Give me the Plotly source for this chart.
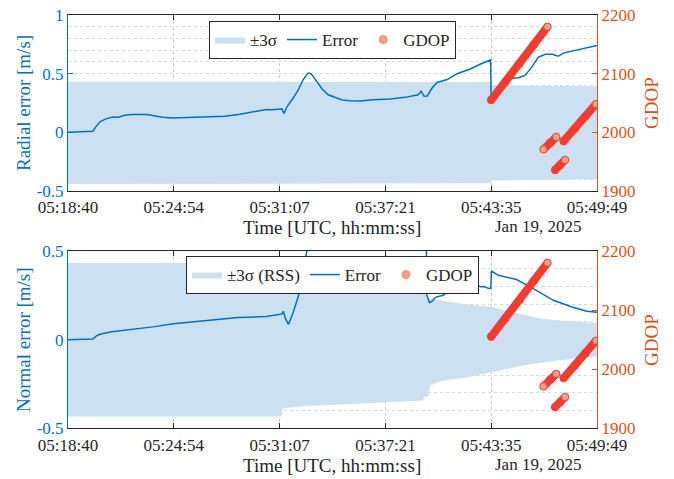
import pandas as pd
import plotly.graph_objects as go

# ---------------- data (seconds after 05:18:40 UTC, 19 Jan 2025) ----------------
START = "2025-01-19 05:18:40"
SPAN_S = 1869
tick_labels = ["05:18:40", "05:24:54", "05:31:07", "05:37:21", "05:43:35", "05:49:49"]

# Radial error
rad_t = [0, 42, 78, 88, 99, 113, 134, 159, 177, 201, 226, 255, 279, 308, 336, 371, 431, 502, 555,
         608, 661, 700, 721, 756, 763, 774, 795, 813, 831, 848, 859, 877, 898, 919, 944, 969, 997,
         1032, 1078, 1138, 1191, 1237, 1248, 1258, 1269, 1287, 1304, 1340, 1375, 1421, 1456, 1493,
         1495, 1509, 1527, 1545, 1569, 1591, 1615, 1640, 1661, 1686, 1711, 1732, 1750, 1775, 1810,
         1845, 1869]
rad_err = [0.0, 0.005, 0.01, 0.01, 0.05, 0.09, 0.115, 0.13, 0.128, 0.145, 0.152, 0.15, 0.152, 0.14,
           0.128, 0.123, 0.127, 0.135, 0.137, 0.155, 0.175, 0.195, 0.192, 0.2, 0.16, 0.22, 0.29,
           0.36, 0.45, 0.505, 0.5, 0.44, 0.37, 0.32, 0.295, 0.275, 0.27, 0.268, 0.278, 0.285, 0.298,
           0.32, 0.35, 0.307, 0.31, 0.38, 0.425, 0.45, 0.5, 0.54, 0.58, 0.617, 0.3, 0.36, 0.4, 0.44,
           0.46, 0.465, 0.485, 0.56, 0.64, 0.665, 0.665, 0.648, 0.675, 0.688, 0.705, 0.722, 0.74]

rad_sig_t = [0, 756, 756, 1495, 1495, 1869]
rad_sig_up = [0.432, 0.432, 0.428, 0.428, 0.400, 0.392]
rad_sig_lo = [-0.44, -0.44, -0.435, -0.435, -0.41, -0.40]

# Normal error
nor_t = [0, 78, 88, 99, 113, 155, 226, 300, 372, 450, 537, 600, 700, 740, 756, 761, 768, 779, 795,
         813, 826, 838, 850, 900, 1000, 1100, 1200, 1266, 1268, 1277, 1285, 1300, 1326, 1338, 1350,
         1362, 1373, 1385, 1395, 1408, 1420, 1432, 1445, 1458, 1470, 1487, 1494, 1496, 1520, 1585,
         1644, 1715, 1786, 1833, 1869]
nor_err = [0.0, 0.0, 0.003, 0.02, 0.03, 0.045, 0.058, 0.072, 0.09, 0.1, 0.115, 0.125, 0.13, 0.14,
           0.145, 0.16, 0.12, 0.086, 0.15, 0.24, 0.335, 0.45, 0.55, 0.7, 0.75, 0.7, 0.62, 0.56,
           0.25, 0.21, 0.215, 0.24, 0.25, 0.265, 0.27, 0.29, 0.297, 0.285, 0.295, 0.29, 0.3, 0.295,
           0.307, 0.298, 0.3, 0.288, 0.29, 0.388, 0.363, 0.339, 0.288, 0.222, 0.181, 0.16, 0.154]

nor_sig_t = [0, 756, 756, 831, 1067, 1255, 1258, 1267, 1268, 1273, 1280, 1315, 1326, 1403, 1498,
             1580, 1615, 1668, 1727, 1869]
nor_sig_up = [0.433, 0.433, 0.433, 0.433, 0.433, 0.433, 0.433, 0.433, 0.235, 0.233, 0.23, 0.222,
              0.22, 0.2, 0.184, 0.15, 0.14, 0.119, 0.109, 0.094]
nor_sig_lo = [-0.433, -0.433, -0.39, -0.375, -0.358, -0.343, -0.32, -0.32, -0.32, -0.32, -0.258,
              -0.235, -0.23, -0.215, -0.183, -0.155, -0.145, -0.13, -0.117, -0.094]

# GDOP (four arcs)
gdop_t = [[1495, 1545, 1595, 1645, 1694],
          [1680, 1703, 1725],
          [1721, 1738, 1756],
          [1751, 1790, 1828, 1865]]
gdop_v = [[2055, 2086, 2117, 2149, 2180],
          [1971, 1982, 1992],
          [1936, 1944, 1953],
          [1985, 2006, 2027, 2048]]

# ---------------- styling ----------------
BLUE = "#0072BD"
ORANGE = "#D95319"
BAND = "#CBE1F1"
RED = "#F43B2F"
SALMON = "#F1A187"
DARK = "#262626"
FONT = "Liberation Serif, Times New Roman, serif"

base = pd.Timestamp(START)
def T(secs):
    return [None if s is None else base + pd.Timedelta(seconds=s) for s in secs]

tickvals = [base + pd.Timedelta(seconds=SPAN_S * k / 5) for k in range(6)]
xrange_ = [base, base + pd.Timedelta(seconds=SPAN_S)]

fig = go.Figure()

def add_panel(row, sig_t, up, lo, err_t, err, band_name, legend_id):
    xa = "x" if row == 1 else "x2"
    ya = "y" if row == 1 else "y2"
    yr = "y3" if row == 1 else "y4"
    fig.add_trace(go.Scatter(
        x=T(sig_t + sig_t[::-1]), y=up + lo[::-1], fill="toself", fillcolor=BAND,
        line=dict(width=0, color=BAND), mode="lines", name=band_name,
        xaxis=xa, yaxis=ya, legend=legend_id, hoverinfo="skip"))
    fig.add_trace(go.Scatter(
        x=T(err_t), y=err, mode="lines", line=dict(color=BLUE, width=1.5), name="Error",
        xaxis=xa, yaxis=ya, legend=legend_id))
    # GDOP arcs
    gx, gy, gc = [], [], []
    ends = {0: [False, False, False, False, True], 1: [True, False, True], 2: [False, False, True],
            3: [False, False, False, True]}
    for i, (ts, vs) in enumerate(zip(gdop_t, gdop_v)):
        gx += ts + [None]
        gy += vs + [None]
        gc += [SALMON if e else RED for e in ends[i]] + [RED]
    fig.add_trace(go.Scatter(
        x=T(gx), y=gy, mode="lines+markers", connectgaps=False,
        line=dict(color=RED, width=8),
        marker=dict(size=7.5, color=gc, line=dict(color=RED, width=1)),
        name="GDOP", showlegend=False, xaxis=xa, yaxis=yr))
    fig.add_trace(go.Scatter(
        x=[None], y=[None], mode="markers", name="GDOP",
        marker=dict(size=8, color=SALMON, line=dict(color="#F48A70", width=1)),
        xaxis=xa, yaxis=yr, legend=legend_id))

add_panel(1, rad_sig_t, rad_sig_up, rad_sig_lo, rad_t, rad_err, "±3σ", "legend")
add_panel(2, nor_sig_t, nor_sig_up, nor_sig_lo, nor_t, nor_err, "±3σ (RSS)", "legend2")

W, H = 674, 479
xdom = [68 / W, 597 / W]
top_dom = [1 - 191 / H, 1 - 15 / H]
bot_dom = [1 - 428.3 / H, 1 - 251 / H]

xcommon = dict(
    type="date", range=xrange_, tickvals=tickvals, ticktext=tick_labels,
    showline=True, linecolor=DARK, linewidth=1, mirror="ticks",
    ticks="inside", ticklen=5, tickcolor=DARK, ticklabelstandoff=1,
    tickfont=dict(family=FONT, size=17, color=DARK),
    showgrid=True, gridcolor="#C8C8C8", griddash="dot", gridwidth=1,
    zeroline=False, automargin=False, domain=xdom, fixedrange=True)

def yleft(rng, vals, texts, dom, anchor):
    return dict(
        range=rng, tickvals=vals, ticktext=texts, domain=dom, anchor=anchor,
        showline=True, linecolor=BLUE, linewidth=1, ticks="inside", ticklen=5, tickcolor=BLUE,
        tickfont=dict(family=FONT, size=17, color=BLUE),
        showgrid=True, gridcolor="#D3DBE3", griddash="dot", gridwidth=1,
        minor=dict(dtick=0.1, tick0=0, showgrid=True, gridcolor="#D3DBE3", griddash="dot",
                   gridwidth=1, ticks=""),
        zeroline=False, automargin=False)

def yright(anchor, overlay):
    return dict(
        range=[1900, 2200], tickvals=[1900, 2000, 2100, 2200], overlaying=overlay, anchor=anchor,
        side="right", showline=True, linecolor=ORANGE, linewidth=1, ticks="inside", ticklen=5,
        tickcolor=ORANGE, tickfont=dict(family=FONT, size=17, color=ORANGE),
        showgrid=False, zeroline=False, automargin=False)

legend_common = dict(orientation="h", x=(68 + 597) / 2 / W, xanchor="center", yanchor="top",
                     bgcolor="white", bordercolor=DARK, borderwidth=1,
                     font=dict(family=FONT, size=17, color=DARK), itemwidth=30, tracegroupgap=0)

fig.update_layout(
    width=W, height=H, margin=dict(l=0, r=0, t=0, b=0),
    paper_bgcolor="white", plot_bgcolor="white",
    font=dict(family=FONT, size=17, color=DARK),
    xaxis=dict(xcommon, anchor="y"),
    xaxis2=dict(xcommon, anchor="y2"),
    yaxis=yleft([-0.5, 1], [-0.5, 0, 0.5, 1], ["-0.5", "0", "0.5", "1"], top_dom, "x"),
    yaxis2=yleft([-0.5, 0.5], [-0.5, 0, 0.5], ["-0.5", "0", "0.5"], bot_dom, "x2"),
    yaxis3=yright("x", "y"),
    yaxis4=yright("x2", "y2"),
    legend=dict(legend_common, y=1 - 21 / H),
    legend2=dict(legend_common, y=1 - 256 / H),
    showlegend=True,
)

ann = [
    dict(text="Radial error [m/s]", x=23 / W, y=1 - 103 / H, textangle=-90, color=BLUE),
    dict(text="GDOP", x=651 / W, y=1 - 103 / H, textangle=-90, color=ORANGE),
    dict(text="Time [UTC, hh:mm:ss]", x=332 / W, y=1 - 228 / H, textangle=0, color=DARK),
    dict(text="Normal error [m/s]", x=23 / W, y=1 - 340 / H, textangle=-90, color=BLUE),
    dict(text="GDOP", x=651 / W, y=1 - 340 / H, textangle=-90, color=ORANGE),
    dict(text="Time [UTC, hh:mm:ss]", x=332 / W, y=1 - 465 / H, textangle=0, color=DARK),
]
for a in ann:
    fig.add_annotation(text=a["text"], x=a["x"], y=a["y"], xref="paper", yref="paper",
                       xanchor="center", yanchor="middle", textangle=a["textangle"],
                       showarrow=False, font=dict(family=FONT, size=19, color=a["color"]))
for yy in (226, 464):
    fig.add_annotation(text="Jan 19, 2025", x=538 / W, y=1 - yy / H, xref="paper", yref="paper",
                       xanchor="center", yanchor="middle", showarrow=False,
                       font=dict(family=FONT, size=17, color=DARK))

fig.write_html("out.html")
